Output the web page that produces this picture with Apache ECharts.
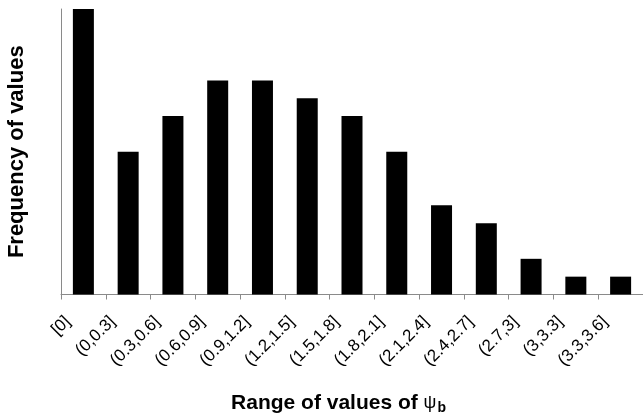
<!DOCTYPE html>
<html>
<head>
<meta charset="utf-8">
<script src="https://cdn.jsdelivr.net/npm/echarts@6/dist/echarts.min.js"></script>
<style>
html,body{margin:0;padding:0;background:#fff;}
#chart{width:643px;height:420px;}
</style>
</head>
<body>
<div id="chart"></div>
<script>
var categories = ['[0]', '(0,0.3]', '(0.3,0.6]', '(0.6,0.9]', '(0.9,1.2]', '(1.2,1.5]', '(1.5,1.8]', '(1.8,2.1]', '(2.1,2.4]', '(2.4,2.7]', '(2.7,3]', '(3,3.3]', '(3.3,3.6]'];
var frequencies = [16, 8, 10, 12, 12, 11, 10, 8, 5, 4, 2, 1, 1];
var xTitle = 'Range of values of ';
var xTitleSymbol = 'ψ';
var xTitleSub = 'b';
var yTitle = 'Frequency of values';

var font = 'Liberation Sans, Arial, sans-serif';
var chart = echarts.init(document.getElementById('chart'), null, {renderer: 'canvas'});
chart.setOption({
  animation: false,
  backgroundColor: '#fff',
  grid: {left: 61, top: 9, width: 582, bottom: 125.5, containLabel: false, outerBoundsMode: 'none'},
  xAxis: {
    type: 'category',
    data: categories,
    boundaryGap: true,
    axisLine: {show: true, lineStyle: {color: '#8a8a8a', width: 1}},
    axisTick: {show: true, length: 5, inside: false, lineStyle: {color: '#8a8a8a'}},
    axisLabel: {
      interval: 0, rotate: 45, margin: 9, color: '#000',
      fontFamily: font, fontSize: 17,
      padding: [0, 22, 0, 0]
    },
    name: '{t|' + xTitle + '}{p|' + xTitleSymbol + '}{s|' + xTitleSub + '}',
    nameLocation: 'middle',
    nameGap: 97,
    nameTextStyle: {
      color: '#000', fontFamily: font, fontWeight: 'bold', fontSize: 21,
      padding: [0, 27, 0, 0],
      rich: {
        t: {color: '#000', fontFamily: font, fontWeight: 'bold', fontSize: 21, lineHeight: 24},
        p: {color: '#000', fontFamily: font, fontWeight: 'normal', fontSize: 18, lineHeight: 24},
        s: {color: '#000', fontFamily: font, fontWeight: 'bold', fontSize: 14, lineHeight: 8, verticalAlign: 'bottom', padding: [0, 0, 0, 1]}
      }
    }
  },
  yAxis: {
    type: 'value',
    min: 0, max: 16,
    axisLine: {show: true, lineStyle: {color: '#8a8a8a', width: 1}},
    axisTick: {show: false},
    axisLabel: {show: false},
    splitLine: {show: false},
    name: yTitle,
    nameLocation: 'middle',
    nameGap: 33,
    nameTextStyle: {color: '#000', fontFamily: font, fontWeight: 'bold', fontSize: 22}
  },
  series: [{
    type: 'bar',
    data: frequencies,
    barWidth: 21,
    itemStyle: {color: '#000'}
  }]
});
</script>
</body>
</html>
